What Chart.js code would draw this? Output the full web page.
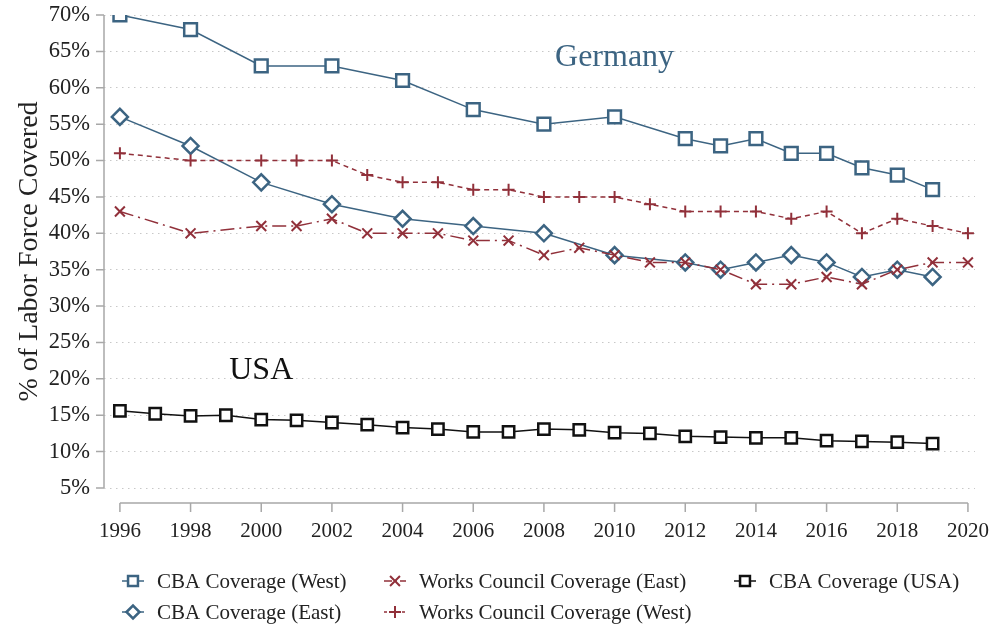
<!DOCTYPE html>
<html>
<head>
<meta charset="utf-8">
<script src="https://cdn.jsdelivr.net/npm/chart.js@4.4.0/dist/chart.umd.min.js"></script>
<style>
  html, body { margin: 0; padding: 0; background: #fff; }
  #wrap { width: 992px; height: 628px; }
</style>
</head>
<body>
<div id="wrap"><canvas id="myChart" width="992" height="628"></canvas></div>
<script>
// German CBA coverage (survey years only)
var cbaYears = [1996, 1998, 2000, 2002, 2004, 2006, 2008, 2010, 2012, 2013, 2014, 2015, 2016, 2017, 2018, 2019];
var cbaWest = [70, 68, 63, 63, 61, 57, 55, 56, 53, 52, 53, 51, 51, 49, 48, 46];
var cbaEast = [56, 52, 47, 44, 42, 41, 40, 37, 36, 35, 36, 37, 36, 34, 35, 34];

// works council coverage
var wcYears = [1996, 1998, 2000, 2001, 2002, 2003, 2004, 2005, 2006, 2007, 2008, 2009, 2010, 2011, 2012, 2013, 2014, 2015, 2016, 2017, 2018, 2019, 2020];
var wcEast = [43, 40, 41, 41, 42, 40, 40, 40, 39, 39, 37, 38, 37, 36, 36, 35, 33, 33, 34, 33, 35, 36, 36];
var wcWest = [51, 50, 50, 50, 50, 48, 47, 47, 46, 46, 45, 45, 45, 44, 43, 43, 43, 42, 43, 40, 42, 41, 40];

// USA
var usaYears = [1996, 1997, 1998, 1999, 2000, 2001, 2002, 2003, 2004, 2005, 2006, 2007, 2008, 2009, 2010, 2011, 2012, 2013, 2014, 2015, 2016, 2017, 2018, 2019];
var usaCba = [15.6, 15.2, 14.9, 15.0, 14.4, 14.3, 14.0, 13.7, 13.3, 13.1, 12.7, 12.7, 13.1, 13.0, 12.6, 12.5, 12.1, 12.0, 11.9, 11.9, 11.5, 11.4, 11.3, 11.1];

var xTicks = [1996, 1998, 2000, 2002, 2004, 2006, 2008, 2010, 2012, 2014, 2016, 2018, 2020];
var yTicks = [5, 10, 15, 20, 25, 30, 35, 40, 45, 50, 55, 60, 65, 70];

var BLUE = 'rgb(60, 100, 130)';
var RED = 'rgb(145, 48, 58)';
var FONT = "'Liberation Serif', 'Times New Roman', serif";

function pts(xs, ys) {
    return xs.map(function (x, i) { return { x: x, y: ys[i] }; });
}

// text labels inside the plot
var notes = [
    { text: 'Germany', x: 2010, y: 64.2, color: BLUE },
    { text: 'USA', x: 2000, y: 21.2, color: '#111' }
];

// legend slots (column x, row y) in the order of legendOrder
var legendOrder = [2, 3, 0, 1, 4];
var legendSlots = [[133, 581], [133, 612], [395, 581], [395, 612], [745, 581]];

var axesPlugin = {
    id: 'axesPlugin',
    beforeDatasetsDraw: function (chart) {
        var c = chart.ctx, xs = chart.scales.x, ys = chart.scales.y, a = chart.chartArea;
        c.save();
        c.strokeStyle = '#a8a8a8';
        c.lineWidth = 1.5;
        // y axis
        c.beginPath();
        c.moveTo(a.left, ys.getPixelForValue(70));
        c.lineTo(a.left, ys.getPixelForValue(5));
        yTicks.forEach(function (v) {
            var py = ys.getPixelForValue(v);
            c.moveTo(a.left - 8, py);
            c.lineTo(a.left, py);
        });
        // x axis, set off below the plot
        var ay = a.bottom + 15;
        c.moveTo(xs.getPixelForValue(1996), ay);
        c.lineTo(xs.getPixelForValue(2020), ay);
        xTicks.forEach(function (v) {
            var px = xs.getPixelForValue(v);
            c.moveTo(px, ay);
            c.lineTo(px, ay + 9);
        });
        c.stroke();
        c.restore();
    },
    afterDraw: function (chart) {
        var c = chart.ctx, xs = chart.scales.x, ys = chart.scales.y;
        c.save();
        c.textAlign = 'center';
        c.textBaseline = 'middle';
        notes.forEach(function (n) {
            c.font = '32px ' + FONT;
            c.fillStyle = n.color;
            c.fillText(n.text, xs.getPixelForValue(n.x), ys.getPixelForValue(n.y));
        });
        // legend
        c.textAlign = 'left';
        c.font = '21px ' + FONT;
        legendOrder.forEach(function (di, k) {
            var ds = chart.data.datasets[di];
            var cx = legendSlots[k][0], cy = legendSlots[k][1];
            c.strokeStyle = ds.borderColor;
            c.lineWidth = 1.5;
            c.setLineDash(ds.legendDash || []);
            c.beginPath();
            c.moveTo(cx - 11, cy);
            c.lineTo(cx + 11, cy);
            c.stroke();
            c.setLineDash([]);
            c.lineWidth = ds.pointBorderWidth;
            c.fillStyle = '#fff';
            Chart.helpers.drawPoint(c, { pointStyle: ds.pointStyle, radius: ds.legendRadius, borderWidth: ds.pointBorderWidth, rotation: 0 }, cx, cy);
            c.fillStyle = '#222';
            c.fillText(ds.label, cx + 24, cy + 1);
        });
        c.restore();
    }
};

var ctx = document.getElementById('myChart').getContext('2d');
var chart = new Chart(ctx, {
    type: 'line',
    data: {
        datasets: [
            {
                label: 'Works Council Coverage (East)',
                data: pts(wcYears, wcEast),
                borderColor: RED,
                borderWidth: 1.5,
                borderDash: [14, 5, 2, 5],
                legendDash: [8, 3, 2, 3],
                pointStyle: 'crossRot',
                pointRadius: 7,
                legendRadius: 7,
                pointBorderWidth: 2,
                pointBorderColor: RED
            },
            {
                label: 'Works Council Coverage (West)',
                data: pts(wcYears, wcWest),
                borderColor: RED,
                borderWidth: 1.5,
                borderDash: [5, 4],
                legendDash: [3, 3],
                pointStyle: 'cross',
                pointRadius: 6,
                legendRadius: 6,
                pointBorderWidth: 2,
                pointBorderColor: RED
            },
            {
                label: 'CBA Coverage (West)',
                data: pts(cbaYears, cbaWest),
                borderColor: BLUE,
                borderWidth: 1.5,
                pointStyle: 'rect',
                pointRadius: 9,
                legendRadius: 7,
                pointBorderWidth: 2.5,
                pointBorderColor: BLUE,
                pointBackgroundColor: '#fff'
            },
            {
                label: 'CBA Coverage (East)',
                data: pts(cbaYears, cbaEast),
                borderColor: BLUE,
                borderWidth: 1.5,
                pointStyle: 'rectRot',
                pointRadius: 8,
                legendRadius: 6.5,
                pointBorderWidth: 2.5,
                pointBorderColor: BLUE,
                pointBackgroundColor: '#fff'
            },
            {
                label: 'CBA Coverage (USA)',
                data: pts(usaYears, usaCba),
                borderColor: '#111',
                borderWidth: 1.5,
                pointStyle: 'rect',
                pointRadius: 8,
                legendRadius: 7,
                pointBorderWidth: 2.5,
                pointBorderColor: '#111',
                pointBackgroundColor: '#fff'
            }
        ]
    },
    options: {
        responsive: false,
        animation: false,
        devicePixelRatio: 1,
        layout: { padding: { left: 0, right: 17, top: 15, bottom: 0 } },
        plugins: {
            legend: { display: false },
            tooltip: { enabled: false }
        },
        scales: {
            x: {
                type: 'linear',
                min: 1995.55,
                max: 2020.2,
                afterBuildTicks: function (s) { s.ticks = xTicks.map(function (v) { return { value: v }; }); },
                afterFit: function (s) { s.height = 140; s.paddingLeft = 0; s.paddingRight = 0; },
                grid: { display: false, drawTicks: false },
                border: { display: false },
                ticks: {
                    autoSkip: false,
                    maxRotation: 0,
                    padding: 31,
                    color: '#222',
                    font: { family: FONT, size: 21 },
                    callback: function (v) { return String(v); }
                }
            },
            y: {
                min: 5,
                max: 70,
                afterBuildTicks: function (s) { s.ticks = yTicks.map(function (v) { return { value: v }; }); },
                afterFit: function (s) { s.width = 104; s.paddingTop = 0; s.paddingBottom = 0; },
                grid: { color: '#c8c8c8', lineWidth: 1, drawTicks: false },
                border: { display: false, dash: [1.5, 4.5] },
                ticks: {
                    padding: 14,
                    color: '#222',
                    font: { family: FONT, size: 22.5 },
                    callback: function (v) { return v + '%'; }
                },
                title: {
                    display: true,
                    text: '% of Labor Force Covered',
                    color: '#222',
                    font: { family: FONT, size: 28 },
                    padding: { top: 13, bottom: 0 }
                }
            }
        }
    },
    plugins: [axesPlugin]
});
</script>
</body>
</html>
